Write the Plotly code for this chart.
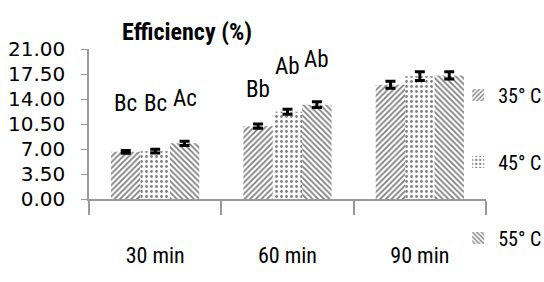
import plotly.graph_objects as go

categories = ["30 min", "60 min", "90 min"]
series_names = ["35° C", "45° C", "55° C"]
values_35 = [6.6, 10.2, 16.0]
values_45 = [6.7, 12.2, 17.2]
values_55 = [7.8, 13.2, 17.3]
errors_35 = [0.2, 0.3, 0.5]
errors_45 = [0.25, 0.35, 0.6]
errors_55 = [0.3, 0.4, 0.5]
letters_35 = ["Bc", "Bb", "Ba"]
letters_45 = ["Bc", "Ab", "Aa"]
letters_55 = ["Ac", "Ab", "Aa"]
letters_y_35 = [13.4, 15.3, 22.7]
letters_y_45 = [13.4, 18.5, 23.4]
letters_y_55 = [14.1, 19.5, 23.4]
y_ticks = [0, 3.5, 7, 10.5, 14, 17.5, 21]
y_ticktext = ["0.00", "3.50", "7.00", "10.50", "14.00", "17.50", "21.00"]

FONT = "Roboto Condensed, Liberation Sans Narrow, Roboto, Liberation Sans, sans-serif"
patterns = ["/", ".", "\\"]
sizes = [4, 5, 4]
solid = [0.45, 0.25, 0.45]
vals = [values_35, values_45, values_55]
errs = [errors_35, errors_45, errors_55]
legends = ["legend", "legend2", "legend3"]

fig = go.Figure()
for i in range(3):
    fig.add_trace(go.Bar(
        x=categories, y=vals[i], name=series_names[i],
        marker=dict(color="white", line=dict(width=0),
                    pattern=dict(shape=patterns[i], fgcolor="black", bgcolor="white",
                                 size=sizes[i], solidity=solid[i], fillmode="overlay")),
        error_y=dict(type="data", array=errs[i], color="black", thickness=3, width=5),
        legend=legends[i],
    ))

px_per_bar = 397 / 3 * (2 / 3) / 3
letters = [letters_35, letters_45, letters_55]
letters_y = [letters_y_35, letters_y_45, letters_y_55]
for i in range(3):
    for j, c in enumerate(categories):
        fig.add_annotation(x=c, y=letters_y[i][j], text=letters[i][j], showarrow=False,
                           xshift=(i - 1) * px_per_bar, yanchor="middle",
                           font=dict(family=FONT, size=23, color="black"))

legend_common = dict(font=dict(family=FONT, size=20, color="black"), bgcolor="rgba(0,0,0,0)",
                     xanchor="left", yanchor="middle", x=0.93, itemwidth=30)
fig.update_layout(
    width=544, height=282,
    margin=dict(l=89, r=58, t=49, b=83, autoexpand=False),
    paper_bgcolor="white", plot_bgcolor="white",
    barmode="group", bargap=1/3, bargroupgap=0,
    showlegend=True,
    legend=dict(**legend_common, y=(199 - 95) / 150),
    legend2=dict(**legend_common, y=(199 - 162) / 150),
    legend3=dict(**legend_common, y=(199 - 238) / 150),
    title=dict(text="<b>Efficiency (%)</b>", x=187 / 544, xref="container",
               xanchor="center", y=1 - 32 / 282, yanchor="middle",
               font=dict(family=FONT, size=24, color="black")),
    xaxis=dict(showline=True, linecolor="#999999", linewidth=2, ticks="outside",
               tickson="boundaries", ticklen=14, tickcolor="#999999", tickwidth=1.5,
               ticklabelstandoff=36, showgrid=False, automargin=False,
               tickfont=dict(family=FONT, size=22, color="black")),
    yaxis=dict(range=[0, 21], showline=True, linecolor="#999999", linewidth=1.5,
               ticks="outside", ticklen=6, tickcolor="#999999", tickvals=y_ticks,
               ticktext=y_ticktext, showgrid=False, zeroline=False, automargin=False,
               ticklabelstandoff=12,
               tickfont=dict(family="DejaVu Sans", size=20, color="black")),
)
fig.write_html("out.html", config={"displayModeBar": False},
               post_script="document.body.style.margin='0';")
